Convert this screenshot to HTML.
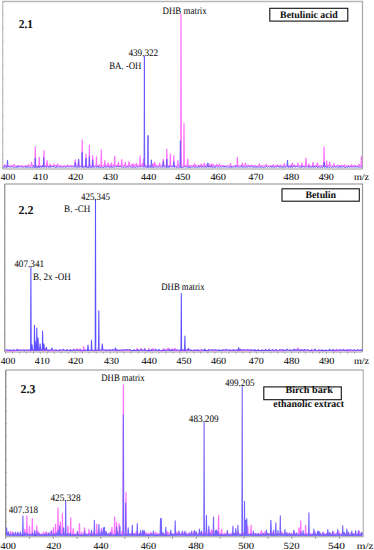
<!DOCTYPE html>
<html><head><meta charset="utf-8"><style>
html,body{margin:0;padding:0;background:#fff;}
svg{display:block;}
</style></head><body>
<svg width="374" height="550" viewBox="0 0 374 550">
<rect width="374" height="550" fill="#fff"/>
<g>
<line x1="2.7" y1="1.5" x2="363.0" y2="1.5" stroke="#b8b8b8" stroke-width="1.6"/>
<line x1="2.7" y1="1.5" x2="2.7" y2="169.0" stroke="#c0c0c0" stroke-width="1.3"/>
<line x1="362.5" y1="1.5" x2="362.5" y2="169.0" stroke="#a8a8a8" stroke-width="1.2"/>
<line x1="2.7" y1="169.0" x2="362.5" y2="169.0" stroke="#9a9a9a" stroke-width="1"/>
<path d="M3.2,166.0 L4.05,165.6 L4.60,164.8 L5.15,165.8 L6.67,165.9 L7.22,165.6 L7.77,166.4 L10.30,166.2 L10.85,165.3 L11.40,165.9 L13.57,165.8 L14.12,164.3 L14.67,166.1 L17.49,166.3 L18.04,165.7 L18.59,166.3 L21.01,165.9 L21.56,165.3 L22.11,166.3 L24.40,166.1 L24.95,165.7 L25.50,166.0 L27.84,166.4 L28.39,164.6 L28.94,165.8 L30.95,166.2 L31.50,162.3 L32.05,165.7 L34.95,165.7 L35.30,146.6 L35.65,166.3 L38.95,165.8 L39.30,157.3 L39.65,166.2 L42.04,166.1 L42.59,165.4 L43.14,166.3 L43.65,165.9 L44.00,150.7 L44.35,165.9 L45.49,165.8 L46.04,165.3 L46.59,166.3 L46.55,166.1 L47.10,160.7 L47.65,166.4 L49.45,166.3 L50.00,164.0 L50.55,165.7 L53.45,166.0 L54.00,164.0 L54.55,165.7 L57.15,165.6 L57.70,164.0 L58.25,165.7 L59.82,166.3 L60.37,165.2 L60.92,166.2 L63.65,166.3 L64.20,165.7 L64.75,165.9 L67.10,166.1 L67.65,165.0 L68.20,166.2 L70.82,165.9 L71.37,165.6 L71.92,166.1 L74.75,165.8 L75.30,159.8 L75.85,165.7 L78.05,165.8 L78.60,159.5 L79.15,166.3 L81.85,166.1 L82.20,139.9 L82.55,166.3 L85.65,166.0 L86.00,154.0 L86.35,165.8 L89.05,166.2 L89.40,145.2 L89.75,166.3 L92.35,165.6 L92.70,155.7 L93.05,166.1 L96.15,165.7 L96.50,156.8 L96.85,165.7 L98.74,166.3 L99.29,164.9 L99.84,165.6 L100.95,165.8 L101.30,149.9 L101.65,166.4 L102.68,165.9 L103.23,165.6 L103.78,165.7 L104.25,165.7 L104.80,160.7 L105.35,165.8 L105.91,166.2 L106.46,165.3 L107.01,165.7 L107.55,166.3 L108.10,162.8 L108.65,165.9 L109.73,166.4 L110.28,165.0 L110.83,166.3 L110.85,165.8 L111.40,162.8 L111.95,165.8 L113.11,166.0 L113.66,164.7 L114.21,165.7 L114.35,166.1 L114.70,156.2 L115.05,165.6 L116.73,165.6 L117.28,165.3 L117.83,166.4 L117.85,165.8 L118.40,162.3 L118.95,166.1 L121.15,166.0 L121.70,159.5 L122.25,165.9 L124.75,165.7 L125.30,162.3 L125.85,166.3 L127.15,166.4 L127.70,165.7 L128.25,166.4 L128.45,165.7 L129.00,161.5 L129.55,165.8 L131.17,166.1 L131.72,164.6 L132.27,166.4 L132.55,166.0 L133.10,163.5 L133.65,166.2 L134.42,166.1 L134.97,164.9 L135.52,165.8 L135.85,166.0 L136.40,163.3 L136.95,165.8 L138.03,165.8 L138.58,165.6 L139.13,165.7 L139.75,165.8 L140.10,156.2 L140.45,166.4 L141.71,166.0 L142.26,163.6 L142.81,166.1 L143.05,166.1 L143.60,159.0 L144.15,166.4 L145.31,165.9 L145.86,165.1 L146.41,165.8 L148.68,165.9 L149.23,165.6 L149.78,165.9 L152.27,166.3 L152.82,163.7 L153.37,166.3 L154.15,165.8 L154.70,162.3 L155.25,165.9 L155.66,166.0 L156.21,165.2 L156.76,166.1 L159.15,166.1 L159.70,163.2 L160.25,165.8 L162.75,165.6 L163.30,159.0 L163.85,165.8 L166.45,165.7 L166.80,149.0 L167.15,166.0 L170.05,165.7 L170.40,154.0 L170.75,165.7 L173.45,166.1 L173.80,155.7 L174.15,165.8 L177.35,166.2 L177.90,160.7 L178.45,166.0 L180.70,166.3 L181.00,14.3 L181.30,165.7 L183.70,166.0 L184.00,123.4 L184.30,166.2 L187.15,165.7 L187.70,159.0 L188.25,166.4 L191.30,165.7 L191.85,165.4 L192.40,166.2 L193.75,166.4 L194.30,163.5 L194.85,166.3 L194.88,165.9 L195.43,164.8 L195.98,165.7 L198.14,166.0 L198.69,165.2 L199.24,166.3 L200.45,165.8 L201.00,164.0 L201.55,166.3 L201.77,165.7 L202.32,165.6 L202.87,166.3 L203.65,165.6 L204.20,163.0 L204.75,165.9 L205.66,166.3 L206.21,164.9 L206.76,166.2 L209.18,166.3 L209.73,164.3 L210.28,166.3 L211.15,166.2 L211.70,164.0 L212.25,166.2 L212.45,165.7 L213.00,164.2 L213.55,165.9 L216.21,165.7 L216.76,164.1 L217.31,166.2 L218.65,166.1 L219.20,164.0 L219.75,165.8 L223.35,165.7 L223.90,165.7 L224.45,166.4 L226.58,166.2 L227.13,165.6 L227.68,166.0 L229.85,166.0 L230.40,163.5 L230.95,166.3 L233.71,166.0 L234.26,165.7 L234.81,165.9 L237.05,165.9 L237.40,157.3 L237.75,165.8 L241.85,165.6 L242.40,163.0 L242.95,166.1 L244.85,165.9 L245.40,163.0 L245.95,166.1 L247.84,165.6 L248.39,165.2 L248.94,165.9 L251.59,165.7 L252.14,165.4 L252.69,165.7 L254.98,165.8 L255.53,165.6 L256.08,166.3 L258.73,165.9 L259.28,163.9 L259.83,165.9 L262.33,166.1 L262.88,165.6 L263.43,165.8 L265.59,165.6 L266.14,164.2 L266.69,166.0 L269.20,166.0 L269.75,165.7 L270.30,166.1 L272.76,166.0 L273.31,164.6 L273.86,166.1 L276.57,166.2 L277.12,164.6 L277.67,165.8 L279.89,166.0 L280.44,165.0 L280.99,166.0 L283.73,165.8 L284.28,163.6 L284.83,165.9 L286.99,166.0 L287.54,165.1 L288.09,166.3 L290.62,166.3 L291.17,164.8 L291.72,165.8 L291.85,166.1 L292.40,163.0 L292.95,165.6 L294.14,165.7 L294.69,165.0 L295.24,166.0 L297.15,166.3 L297.70,163.0 L298.25,165.7 L301.35,166.2 L301.90,163.0 L302.45,166.3 L305.45,165.8 L306.00,158.2 L306.55,166.2 L308.33,166.3 L308.88,164.1 L309.43,165.9 L312.45,166.2 L313.00,162.3 L313.55,166.2 L315.40,166.1 L315.95,165.3 L316.50,166.3 L316.95,166.3 L317.50,162.8 L318.05,166.4 L319.27,166.1 L319.82,165.7 L320.37,165.7 L323.75,165.8 L324.10,146.9 L324.45,165.8 L326.05,166.1 L326.60,161.0 L327.15,166.2 L329.05,165.6 L329.60,162.0 L330.15,166.1 L333.38,166.2 L333.93,163.6 L334.48,165.9 L336.77,166.0 L337.32,165.1 L337.87,165.7 L340.23,166.2 L340.78,165.4 L341.33,165.6 L343.89,166.4 L344.44,164.7 L344.99,166.2 L347.28,166.1 L347.83,165.6 L348.38,165.8 L350.93,166.3 L351.48,164.7 L352.03,166.4 L354.49,165.7 L355.04,165.2 L355.59,166.2 L358.33,166.3 L358.88,164.0 L359.43,166.1 L361.05,166.2 L361.40,156.5 L361.75,166.0 L362.0,166.0" fill="none" stroke="#ff70ff" stroke-width="1.2" stroke-linejoin="round"/>
<path d="M3.2,167.2 L4.13,167.6 L4.68,165.8 L5.23,166.9 L6.95,167.5 L7.50,160.2 L8.05,167.1 L8.00,167.1 L8.55,166.3 L9.10,167.1 L9.74,166.9 L10.29,166.8 L10.84,167.2 L11.51,166.9 L12.06,166.5 L12.61,167.2 L13.22,167.0 L13.77,166.9 L14.32,167.5 L15.14,167.5 L15.69,166.7 L16.24,167.2 L17.04,167.3 L17.59,165.7 L18.14,167.5 L18.56,167.1 L19.11,166.5 L19.66,166.9 L20.14,167.0 L20.69,166.8 L21.24,167.0 L22.13,167.3 L22.68,166.9 L23.23,167.1 L23.87,167.1 L24.42,166.8 L24.97,167.4 L25.72,167.0 L26.27,165.9 L26.82,167.4 L27.36,167.3 L27.91,166.5 L28.46,167.1 L29.18,167.5 L29.73,166.9 L30.28,167.1 L31.06,167.5 L31.61,166.9 L32.16,167.5 L32.92,167.2 L33.47,165.7 L34.02,167.4 L34.95,167.6 L35.30,158.0 L35.65,167.4 L36.51,167.4 L37.06,166.1 L37.61,167.5 L38.30,167.5 L38.85,165.9 L39.40,167.4 L39.88,167.6 L40.43,166.2 L40.98,167.0 L41.96,167.3 L42.51,165.7 L43.06,167.3 L43.25,167.1 L43.60,157.5 L43.95,167.1 L45.27,166.9 L45.82,166.3 L46.37,167.6 L47.07,167.1 L47.62,166.6 L48.17,167.2 L48.85,167.5 L49.40,165.9 L49.95,166.9 L50.56,167.6 L51.11,166.1 L51.66,166.9 L52.61,166.8 L53.16,166.0 L53.71,167.1 L54.23,167.1 L54.78,166.6 L55.33,167.5 L56.08,167.5 L56.63,165.9 L57.18,167.4 L57.61,167.1 L58.16,166.6 L58.71,167.2 L59.63,167.0 L60.18,166.8 L60.73,167.5 L61.52,167.1 L62.07,166.9 L62.62,167.0 L63.30,167.3 L63.85,166.8 L64.40,166.9 L65.10,167.1 L65.65,166.8 L66.20,167.5 L66.65,166.9 L67.20,166.3 L67.75,166.9 L68.51,167.0 L69.06,166.6 L69.61,167.0 L70.12,167.1 L70.67,166.5 L71.22,167.0 L72.00,167.1 L72.55,166.8 L73.10,167.0 L74.75,167.0 L75.30,162.3 L75.85,167.3 L78.25,167.1 L78.60,159.0 L78.95,167.1 L79.23,167.4 L79.78,166.9 L80.33,166.8 L81.85,166.9 L82.20,152.4 L82.55,167.5 L84.25,167.1 L84.80,166.0 L85.35,167.4 L85.65,166.9 L86.00,158.0 L86.35,167.2 L89.05,167.5 L89.40,156.5 L89.75,167.1 L92.15,167.4 L92.70,159.8 L93.25,167.3 L93.19,167.1 L93.74,166.7 L94.29,167.6 L94.92,167.1 L95.47,166.4 L96.02,167.2 L96.67,167.3 L97.22,165.8 L97.77,167.1 L98.45,167.5 L99.00,166.3 L99.55,167.3 L100.63,167.3 L101.18,166.8 L101.73,167.2 L102.09,167.6 L102.64,166.9 L103.19,167.6 L103.97,167.5 L104.52,166.3 L105.07,167.2 L106.06,167.1 L106.61,166.9 L107.16,167.2 L107.36,166.8 L107.91,166.9 L108.46,166.9 L109.43,167.6 L109.98,166.8 L110.53,166.9 L110.96,167.5 L111.51,166.2 L112.06,167.3 L112.70,167.5 L113.25,166.8 L113.80,166.9 L114.84,167.0 L115.39,166.7 L115.94,167.4 L116.69,166.8 L117.24,166.2 L117.79,166.9 L118.45,167.1 L119.00,166.2 L119.55,166.9 L120.04,166.9 L120.59,166.3 L121.14,167.3 L121.91,166.9 L122.46,166.8 L123.01,167.6 L123.41,167.3 L123.96,166.8 L124.51,166.8 L125.58,167.5 L126.13,166.7 L126.68,167.0 L127.21,167.2 L127.76,166.9 L128.31,167.2 L128.96,166.9 L129.51,166.7 L130.06,167.2 L130.96,166.8 L131.51,166.9 L132.06,167.0 L132.56,167.5 L133.11,166.8 L133.66,167.5 L134.05,167.2 L134.60,166.7 L135.15,167.3 L135.89,167.5 L136.44,166.5 L136.99,166.9 L137.62,167.2 L138.17,166.9 L138.72,166.9 L139.43,166.9 L139.98,166.9 L140.53,166.9 L141.42,167.0 L141.97,166.4 L142.52,166.8 L144.10,167.0 L144.40,56.2 L144.70,167.1 L147.70,167.3 L148.00,135.3 L148.30,167.5 L148.59,167.5 L149.14,166.5 L149.69,167.4 L150.85,167.2 L151.40,159.8 L151.95,167.5 L152.05,166.9 L152.60,166.8 L153.15,166.9 L153.62,167.5 L154.17,166.6 L154.72,167.3 L155.61,167.0 L156.16,166.9 L156.71,167.1 L157.54,167.0 L158.09,166.9 L158.64,167.1 L159.01,167.1 L159.56,166.8 L160.11,167.1 L160.86,167.4 L161.41,166.9 L161.96,167.4 L162.75,167.2 L163.30,161.5 L163.85,167.2 L164.46,167.0 L165.01,166.6 L165.56,167.4 L166.45,167.6 L166.80,159.0 L167.15,167.0 L168.34,167.4 L168.89,165.9 L169.44,167.4 L169.86,167.3 L170.41,166.3 L170.96,166.8 L171.71,167.2 L172.26,166.6 L172.81,167.0 L173.25,167.0 L173.80,161.5 L174.35,167.3 L175.07,167.3 L175.62,166.6 L176.17,167.3 L177.16,167.4 L177.71,166.9 L178.26,167.4 L178.80,167.2 L179.35,166.7 L179.90,166.8 L180.05,167.4 L180.40,140.8 L180.75,167.5 L182.59,167.5 L183.14,166.8 L183.69,167.3 L183.89,166.8 L184.44,166.7 L184.99,167.0 L185.71,166.9 L186.26,166.3 L186.81,167.3 L187.86,167.2 L188.41,166.8 L188.96,166.9 L189.23,167.6 L189.78,166.4 L190.33,167.6 L191.21,167.5 L191.76,166.7 L192.31,167.2 L192.89,167.0 L193.44,166.6 L193.99,167.0 L194.60,167.5 L195.15,166.5 L195.70,167.4 L196.53,167.0 L197.08,166.8 L197.63,167.5 L198.16,167.3 L198.71,165.9 L199.26,167.1 L200.00,167.1 L200.55,166.2 L201.10,167.4 L201.88,167.2 L202.43,166.5 L202.98,167.3 L203.84,166.9 L204.39,166.6 L204.94,167.4 L205.30,167.0 L205.85,166.7 L206.40,167.5 L207.35,167.0 L207.90,162.8 L208.45,167.1 L209.12,167.2 L209.67,166.0 L210.22,167.1 L210.93,167.2 L211.48,165.8 L212.03,167.5 L212.69,167.0 L213.24,166.9 L213.79,167.4 L214.50,167.4 L215.05,166.2 L215.60,167.4 L216.10,167.2 L216.65,166.6 L217.20,167.2 L218.10,167.1 L218.65,166.6 L219.20,167.2 L219.74,167.0 L220.29,166.8 L220.84,167.0 L221.74,167.2 L222.29,166.6 L222.84,167.0 L223.51,167.2 L224.06,166.1 L224.61,167.3 L224.97,167.0 L225.52,166.1 L226.07,166.9 L226.85,167.3 L227.40,166.8 L227.95,167.5 L228.60,167.0 L229.15,166.8 L229.70,167.3 L230.62,167.3 L231.17,166.3 L231.72,167.5 L232.35,167.3 L232.90,166.5 L233.45,167.0 L233.90,167.0 L234.45,166.9 L235.00,167.5 L235.57,167.0 L236.12,165.7 L236.67,166.8 L237.32,167.5 L237.87,166.7 L238.42,167.0 L239.51,167.1 L240.06,166.9 L240.61,167.1 L241.17,167.0 L241.72,165.7 L242.27,167.4 L242.77,167.1 L243.32,166.9 L243.87,167.2 L244.74,167.1 L245.29,166.8 L245.84,167.5 L246.40,166.8 L246.95,166.3 L247.50,167.3 L248.02,166.9 L248.57,166.6 L249.12,166.9 L250.22,167.3 L250.77,166.5 L251.32,167.1 L251.57,166.9 L252.12,166.2 L252.67,167.3 L253.66,167.5 L254.21,166.6 L254.76,167.3 L255.53,167.2 L256.08,166.8 L256.63,167.4 L257.21,167.5 L257.76,166.6 L258.31,166.9 L259.14,167.0 L259.69,166.7 L260.24,167.6 L260.71,167.5 L261.26,166.2 L261.81,167.0 L262.42,167.4 L262.97,166.9 L263.52,167.5 L264.28,167.3 L264.83,166.9 L265.38,167.4 L265.85,167.2 L266.40,166.0 L266.95,167.0 L267.78,167.0 L268.33,166.6 L268.88,166.8 L269.68,167.3 L270.23,166.7 L270.78,166.9 L271.45,167.3 L272.00,165.8 L272.55,167.1 L273.36,167.1 L273.91,166.6 L274.46,167.6 L275.03,167.1 L275.58,166.8 L276.13,167.2 L276.82,167.1 L277.37,166.4 L277.92,167.0 L278.33,167.0 L278.88,166.0 L279.43,167.2 L280.20,167.5 L280.75,166.4 L281.30,166.9 L282.27,167.6 L282.82,166.4 L283.37,167.3 L283.57,166.8 L284.12,166.4 L284.67,167.4 L285.70,167.1 L286.25,166.6 L286.80,167.2 L286.95,166.9 L287.50,160.2 L288.05,167.2 L288.91,167.2 L289.46,166.1 L290.01,167.4 L291.05,167.3 L291.60,165.8 L292.15,167.4 L292.91,167.4 L293.46,166.5 L294.01,167.0 L294.29,166.8 L294.84,166.0 L295.39,167.2 L296.41,166.9 L296.96,166.1 L297.51,166.9 L298.17,167.1 L298.72,166.9 L299.27,167.2 L299.68,167.3 L300.23,166.5 L300.78,167.3 L301.43,167.6 L301.98,166.1 L302.53,166.9 L303.36,167.2 L303.91,166.5 L304.46,166.9 L305.20,167.3 L305.75,166.8 L306.30,167.1 L306.80,166.9 L307.35,166.6 L307.90,167.0 L308.52,167.3 L309.07,165.8 L309.62,167.2 L310.50,167.6 L311.05,166.9 L311.60,167.1 L312.37,167.1 L312.92,166.1 L313.47,167.5 L314.06,167.3 L314.61,166.2 L315.16,166.9 L315.77,167.4 L316.32,166.4 L316.87,167.1 L317.63,167.6 L318.18,166.8 L318.73,167.3 L319.20,167.4 L319.75,166.9 L320.30,167.5 L321.03,167.2 L321.58,166.2 L322.13,167.6 L323.55,166.8 L324.10,162.3 L324.65,167.1 L324.84,167.5 L325.39,166.7 L325.94,166.8 L326.71,167.3 L327.26,166.2 L327.81,167.6 L328.14,167.4 L328.69,166.9 L329.24,167.5 L330.07,166.9 L330.62,166.7 L331.17,167.2 L331.63,167.3 L332.18,166.8 L332.73,167.1 L333.89,167.1 L334.44,166.5 L334.99,167.4 L335.45,166.9 L336.00,166.7 L336.55,166.8 L337.18,167.3 L337.73,166.7 L338.28,167.6 L338.90,167.5 L339.45,166.0 L340.00,167.3 L340.76,167.0 L341.31,166.4 L341.86,167.5 L342.76,166.8 L343.31,166.6 L343.86,167.0 L344.49,167.4 L345.04,166.9 L345.59,167.5 L346.18,167.1 L346.73,166.8 L347.28,167.5 L347.97,166.9 L348.52,166.1 L349.07,167.3 L349.84,166.9 L350.39,166.7 L350.94,167.0 L351.52,167.0 L352.07,166.9 L352.62,166.8 L353.25,167.1 L353.80,166.7 L354.35,167.2 L355.16,167.0 L355.71,166.0 L356.26,167.3 L356.70,166.8 L357.25,166.4 L357.80,167.2 L358.55,167.2 L359.10,166.8 L359.65,167.1 L360.24,167.5 L360.79,166.8 L361.34,166.9 L362.0,167.2" fill="none" stroke="#6a5aff" stroke-width="1.0" stroke-linejoin="round"/>
<line x1="4.7" y1="184.0" x2="363.0" y2="184.0" stroke="#b0b0b0" stroke-width="1.6"/>
<line x1="4.7" y1="184.0" x2="4.7" y2="352.0" stroke="#999999" stroke-width="1.3"/>
<line x1="362.5" y1="184.0" x2="362.5" y2="352.0" stroke="#999999" stroke-width="1.2"/>
<line x1="4.7" y1="352.0" x2="362.5" y2="352.0" stroke="#9a9a9a" stroke-width="1"/>
<path d="M5.5,350.5 L5.73,350.1 L6.28,350.0 L6.83,350.8 L9.41,350.7 L9.96,349.9 L10.51,350.8 L12.65,350.8 L13.20,350.2 L13.75,350.8 L16.32,350.6 L16.87,349.6 L17.42,350.1 L20.24,350.7 L20.79,350.2 L21.34,350.2 L23.71,350.3 L24.26,350.0 L24.81,350.6 L27.16,350.5 L27.71,350.0 L28.26,350.4 L30.71,350.9 L31.26,350.2 L31.81,350.6 L35.05,350.4 L35.60,348.0 L36.15,350.3 L37.83,350.8 L38.38,349.8 L38.93,350.5 L39.25,350.7 L39.80,348.0 L40.35,350.4 L41.42,350.3 L41.97,350.2 L42.52,350.5 L44.25,350.8 L44.80,348.0 L45.35,350.2 L48.58,350.7 L49.13,350.2 L49.68,350.8 L52.05,350.7 L52.60,350.0 L53.15,350.8 L55.60,350.1 L56.15,349.6 L56.70,350.6 L58.99,350.8 L59.54,349.5 L60.09,350.1 L62.57,350.3 L63.12,349.7 L63.67,350.3 L66.33,350.5 L66.88,349.5 L67.43,350.4 L69.51,350.5 L70.06,350.2 L70.61,350.7 L73.48,350.1 L74.03,350.2 L74.58,350.1 L76.45,350.2 L77.00,348.8 L77.55,350.2 L79.45,350.2 L80.00,348.8 L80.55,350.9 L83.05,350.8 L83.60,346.7 L84.15,350.2 L87.49,350.5 L88.04,349.9 L88.59,350.4 L91.09,350.4 L91.64,349.5 L92.19,350.4 L94.72,350.6 L95.27,349.5 L95.82,350.6 L97.65,350.4 L98.20,348.5 L98.75,350.3 L101.83,350.4 L102.38,350.2 L102.93,350.2 L105.40,350.5 L105.95,349.5 L106.50,350.7 L108.85,350.4 L109.40,349.9 L109.95,350.2 L112.46,350.2 L113.01,350.2 L113.56,350.4 L115.74,350.6 L116.29,349.9 L116.84,350.7 L119.57,350.4 L120.12,350.2 L120.67,350.7 L122.74,350.6 L123.29,349.4 L123.84,350.4 L126.45,350.4 L127.00,349.7 L127.55,350.5 L129.94,350.7 L130.49,350.2 L131.04,350.4 L133.78,350.7 L134.33,349.7 L134.88,350.5 L136.45,350.3 L137.00,348.5 L137.55,350.5 L140.45,350.7 L141.00,348.5 L141.55,350.2 L144.45,350.4 L145.00,348.5 L145.55,350.4 L148.45,350.8 L149.00,348.5 L149.55,350.8 L151.25,350.4 L151.80,349.4 L152.35,350.8 L152.45,350.7 L153.00,348.5 L153.55,350.3 L154.94,350.5 L155.49,350.2 L156.04,350.2 L158.29,350.8 L158.84,350.2 L159.39,350.6 L162.05,350.8 L162.60,350.1 L163.15,350.7 L163.45,350.6 L164.00,348.5 L164.55,350.7 L165.32,350.6 L165.87,350.2 L166.42,350.2 L167.45,350.6 L168.00,347.8 L168.55,350.1 L169.00,350.2 L169.55,349.6 L170.10,350.7 L171.45,350.1 L172.00,348.5 L172.55,350.2 L172.84,350.2 L173.39,349.5 L173.94,350.8 L174.45,350.2 L175.00,348.3 L175.55,350.1 L176.17,350.8 L176.72,350.1 L177.27,350.2 L179.82,350.8 L180.37,350.0 L180.92,350.6 L183.32,350.8 L183.87,349.9 L184.42,350.9 L187.07,350.6 L187.62,349.9 L188.17,350.7 L190.36,350.1 L190.91,350.0 L191.46,350.7 L193.81,350.5 L194.36,349.8 L194.91,350.7 L197.73,350.2 L198.28,350.1 L198.83,350.7 L201.07,350.8 L201.62,350.0 L202.17,350.1 L204.55,350.4 L205.10,350.2 L205.65,350.6 L207.90,350.8 L208.45,349.9 L209.00,350.3 L211.76,350.2 L212.31,349.9 L212.86,350.3 L215.31,350.6 L215.86,350.2 L216.41,350.7 L218.88,350.4 L219.43,350.0 L219.98,350.4 L222.45,350.4 L223.00,350.1 L223.55,350.4 L225.66,350.4 L226.21,349.8 L226.76,350.2 L229.53,350.5 L230.08,350.2 L230.63,350.9 L232.87,350.4 L233.42,349.5 L233.97,350.7 L236.59,350.2 L237.14,350.0 L237.69,350.7 L240.03,350.7 L240.58,350.1 L241.13,350.6 L243.58,350.5 L244.13,350.1 L244.68,350.5 L247.09,350.6 L247.64,349.9 L248.19,350.8 L250.88,350.2 L251.43,350.1 L251.98,350.2 L254.33,350.7 L254.88,350.2 L255.43,350.8 L257.75,350.5 L258.30,349.8 L258.85,350.5 L261.55,350.7 L262.10,350.2 L262.65,350.2 L264.79,350.3 L265.34,350.2 L265.89,350.3 L268.59,350.6 L269.14,350.0 L269.69,350.4 L271.96,350.3 L272.51,350.2 L273.06,350.7 L275.76,350.9 L276.31,350.1 L276.86,350.3 L279.32,350.7 L279.87,350.0 L280.42,350.4 L282.61,350.8 L283.16,350.2 L283.71,350.6 L286.44,350.3 L286.99,349.9 L287.54,350.3 L289.66,350.1 L290.21,350.0 L290.76,350.5 L293.36,350.4 L293.91,350.2 L294.46,350.2 L297.45,350.4 L298.00,347.8 L298.55,350.4 L300.29,350.7 L300.84,349.6 L301.39,350.2 L304.15,350.9 L304.70,350.1 L305.25,350.5 L307.70,350.6 L308.25,349.9 L308.80,350.5 L310.91,350.8 L311.46,350.1 L312.01,350.8 L314.79,350.5 L315.34,350.1 L315.89,350.5 L318.12,350.7 L318.67,350.1 L319.22,350.8 L321.70,350.4 L322.25,350.1 L322.80,350.7 L325.51,350.9 L326.06,350.1 L326.61,350.5 L328.60,350.3 L329.15,350.2 L329.70,350.3 L332.58,350.7 L333.13,349.5 L333.68,350.6 L335.91,350.9 L336.46,349.4 L337.01,350.8 L339.71,350.3 L340.26,349.5 L340.81,350.3 L343.17,350.3 L343.72,350.2 L344.27,350.2 L346.68,350.7 L347.23,349.6 L347.78,350.8 L350.04,350.8 L350.59,350.0 L351.14,350.3 L353.56,350.8 L354.11,350.1 L354.66,350.4 L357.29,350.4 L357.84,350.2 L358.39,350.7 L360.95,350.2 L361.50,350.1 L362.05,350.2 L362.0,350.5" fill="none" stroke="#ff70ff" stroke-width="1.2" stroke-linejoin="round"/>
<path d="M5.5,350.2 L5.74,350.2 L6.29,349.9 L6.84,349.8 L9.12,350.5 L9.67,349.9 L10.22,350.5 L13.10,349.9 L13.65,349.8 L14.20,350.2 L16.57,350.1 L17.12,349.3 L17.67,350.4 L20.01,350.0 L20.56,349.9 L21.11,350.0 L23.37,350.2 L23.92,349.8 L24.47,350.6 L26.95,349.9 L27.50,349.9 L28.05,349.9 L30.60,350.3 L30.90,267.2 L31.20,350.5 L31.45,350.2 L32.00,344.7 L32.55,350.1 L34.15,350.5 L34.50,325.2 L34.85,350.4 L34.95,349.9 L35.30,341.4 L35.65,350.5 L36.45,350.0 L36.80,328.1 L37.15,350.0 L37.75,350.5 L38.10,338.0 L38.45,350.1 L39.55,350.4 L40.10,343.9 L40.65,349.9 L42.25,350.5 L42.60,331.1 L42.95,349.9 L43.35,349.9 L43.90,343.9 L44.45,350.2 L45.85,350.1 L46.40,347.2 L46.95,350.2 L48.44,350.5 L48.99,349.9 L49.54,350.4 L51.35,349.8 L51.90,348.0 L52.45,350.0 L55.47,350.2 L56.02,349.9 L56.57,350.2 L59.26,350.4 L59.81,349.9 L60.36,350.2 L62.61,349.9 L63.16,349.2 L63.71,350.0 L66.34,350.5 L66.89,349.8 L67.44,350.1 L69.88,350.4 L70.43,349.6 L70.98,350.6 L73.24,350.3 L73.79,349.3 L74.34,350.3 L76.84,350.3 L77.39,349.7 L77.94,350.1 L80.17,350.5 L80.72,349.7 L81.27,350.2 L84.04,350.5 L84.59,349.8 L85.14,350.0 L87.45,350.5 L88.00,345.0 L88.55,350.4 L91.15,350.3 L91.50,340.1 L91.85,350.2 L95.20,349.9 L95.50,199.2 L95.80,350.4 L98.50,350.1 L98.80,310.7 L99.10,350.3 L101.75,349.9 L102.30,343.9 L102.85,349.9 L105.25,349.9 L105.80,349.9 L106.35,350.4 L108.67,349.9 L109.22,349.8 L109.77,350.5 L112.20,350.1 L112.75,349.4 L113.30,350.3 L114.85,350.1 L115.40,348.0 L115.95,350.3 L116.04,349.9 L116.59,349.6 L117.14,350.1 L119.17,350.5 L119.72,349.9 L120.27,349.9 L123.07,350.3 L123.62,349.9 L124.17,350.1 L126.36,350.0 L126.91,349.6 L127.46,349.8 L129.88,349.8 L130.43,349.8 L130.98,350.6 L133.36,350.5 L133.91,349.7 L134.46,350.4 L137.34,350.4 L137.89,349.5 L138.44,350.6 L140.81,349.9 L141.36,349.1 L141.91,350.3 L144.00,350.2 L144.55,349.1 L145.10,350.3 L148.02,350.6 L148.57,349.8 L149.12,350.4 L151.29,350.6 L151.84,349.4 L152.39,349.9 L154.95,350.3 L155.50,349.1 L156.05,350.3 L158.33,350.4 L158.88,349.3 L159.43,350.3 L161.96,350.5 L162.51,349.9 L163.06,350.0 L165.48,350.5 L166.03,349.9 L166.58,350.1 L169.00,350.3 L169.55,349.1 L170.10,350.5 L172.41,350.4 L172.96,349.9 L173.51,350.0 L176.33,350.0 L176.88,349.9 L177.43,350.1 L179.63,350.3 L180.18,349.8 L180.73,350.6 L181.00,350.5 L181.30,293.4 L181.60,350.1 L184.55,350.1 L184.90,336.1 L185.25,350.5 L186.69,350.0 L187.24,349.7 L187.79,350.1 L187.95,349.8 L188.50,348.4 L189.05,349.9 L190.17,350.2 L190.72,349.9 L191.27,350.4 L194.03,350.3 L194.58,349.9 L195.13,350.1 L197.26,350.6 L197.81,349.9 L198.36,350.3 L200.91,349.9 L201.46,349.7 L202.01,349.9 L204.40,350.6 L204.95,349.0 L205.50,350.6 L208.27,350.5 L208.82,349.6 L209.37,350.3 L211.93,350.0 L212.48,349.7 L213.03,349.9 L215.11,350.0 L215.66,349.7 L216.21,350.0 L218.56,350.5 L219.11,349.7 L219.66,350.5 L222.21,350.4 L222.76,349.7 L223.31,349.9 L226.05,350.0 L226.60,349.2 L227.15,350.0 L229.20,350.6 L229.75,349.7 L230.30,349.9 L232.86,350.4 L233.41,349.8 L233.96,350.3 L236.40,350.2 L236.95,349.9 L237.50,350.6 L238.15,350.0 L238.70,347.7 L239.25,350.2 L239.91,349.9 L240.46,349.2 L241.01,349.9 L243.85,349.8 L244.40,349.9 L244.95,350.1 L247.43,349.9 L247.98,349.6 L248.53,349.8 L250.94,350.6 L251.49,349.8 L252.04,350.0 L254.43,350.5 L254.98,349.5 L255.53,350.4 L257.84,350.4 L258.39,349.4 L258.94,350.3 L261.24,350.6 L261.79,349.9 L262.34,350.5 L265.14,350.4 L265.69,349.2 L266.24,350.2 L268.41,350.4 L268.96,349.1 L269.51,350.4 L272.19,350.2 L272.74,349.5 L273.29,350.2 L275.75,349.9 L276.30,349.5 L276.85,350.5 L279.22,350.2 L279.77,349.6 L280.32,349.9 L282.57,349.9 L283.12,349.5 L283.67,350.5 L286.47,350.0 L287.02,349.1 L287.57,350.1 L290.02,350.3 L290.57,349.9 L291.12,350.5 L293.42,350.1 L293.97,349.1 L294.52,350.1 L297.09,350.1 L297.64,349.9 L298.19,349.8 L300.67,350.5 L301.22,349.9 L301.77,349.8 L303.77,350.6 L304.32,349.5 L304.87,349.9 L307.61,349.9 L308.16,349.9 L308.71,350.5 L311.21,350.5 L311.76,349.6 L312.31,350.0 L314.50,350.2 L315.05,349.1 L315.60,350.2 L318.40,350.4 L318.95,349.9 L319.50,349.9 L321.93,350.5 L322.48,349.9 L323.03,350.6 L325.44,350.4 L325.99,349.9 L326.54,350.5 L329.03,350.5 L329.58,349.3 L330.13,350.1 L332.58,350.5 L333.13,349.6 L333.68,350.5 L336.02,350.3 L336.57,349.9 L337.12,349.9 L339.68,350.3 L340.23,349.8 L340.78,350.5 L343.02,350.0 L343.57,349.4 L344.12,350.3 L346.35,350.5 L346.90,349.7 L347.45,350.3 L350.19,349.8 L350.74,349.9 L351.29,350.3 L353.87,350.0 L354.42,349.7 L354.97,350.5 L357.06,350.3 L357.61,349.6 L358.16,350.0 L360.92,350.5 L361.47,349.8 L362.02,350.3 L362.0,350.2" fill="none" stroke="#5e4fff" stroke-width="1.05" stroke-linejoin="round"/>
<line x1="5.7" y1="370.0" x2="363.8" y2="370.0" stroke="#b4b4b4" stroke-width="1.6"/>
<line x1="5.7" y1="370.0" x2="5.7" y2="536.8" stroke="#8c8c8c" stroke-width="1.3"/>
<line x1="363.3" y1="370.0" x2="363.3" y2="536.8" stroke="#b4b4b4" stroke-width="1.2"/>
<line x1="5.7" y1="536.8" x2="363.3" y2="536.8" stroke="#9a9a9a" stroke-width="1"/>
<path d="M6.5,534.2 L7.68,534.1 L8.13,532.5 L8.58,534.4 L10.03,534.3 L10.48,531.7 L10.93,533.8 L12.06,534.0 L12.51,531.8 L12.96,534.2 L14.89,534.5 L15.34,533.4 L15.79,534.5 L17.25,534.2 L17.70,532.8 L18.15,533.8 L19.42,534.4 L19.87,533.9 L20.32,534.1 L21.83,534.3 L22.28,533.7 L22.73,534.4 L24.45,534.3 L24.90,529.4 L25.35,534.2 L26.55,534.5 L26.90,515.8 L27.25,534.1 L29.15,534.1 L29.50,526.1 L29.85,534.5 L31.95,534.0 L32.30,518.6 L32.65,534.0 L33.77,534.5 L34.22,533.9 L34.67,533.9 L36.45,534.5 L36.80,525.8 L37.15,534.4 L38.33,534.1 L38.78,532.0 L39.23,534.0 L41.09,534.4 L41.54,533.8 L41.99,534.5 L43.13,533.9 L43.58,532.0 L44.03,534.2 L45.63,534.2 L46.08,531.6 L46.53,534.2 L47.84,534.1 L48.29,532.8 L48.74,533.9 L50.47,534.3 L50.92,531.7 L51.37,534.4 L52.95,533.9 L53.40,527.8 L53.85,534.0 L55.25,534.5 L55.60,524.4 L55.95,534.4 L57.65,534.3 L58.00,507.9 L58.35,533.8 L59.95,534.4 L60.30,522.0 L60.65,534.6 L62.05,534.6 L62.40,513.7 L62.75,534.4 L64.57,533.8 L65.02,532.8 L65.47,534.5 L67.55,534.0 L67.90,526.1 L68.25,534.3 L70.35,534.6 L70.70,517.8 L71.05,534.4 L72.75,533.9 L73.20,528.6 L73.65,534.0 L74.41,534.5 L74.86,533.9 L75.31,533.9 L76.68,534.3 L77.13,533.9 L77.58,534.1 L79.15,533.9 L79.50,523.6 L79.85,534.3 L81.25,533.8 L81.70,532.3 L82.15,533.9 L84.05,534.1 L84.50,527.8 L84.95,533.9 L85.91,533.8 L86.36,533.9 L86.81,534.3 L88.55,534.4 L89.00,529.4 L89.45,534.5 L91.05,533.9 L91.50,532.5 L91.95,534.1 L93.13,534.1 L93.58,531.7 L94.03,534.3 L96.35,534.2 L96.70,524.4 L97.05,534.6 L97.78,534.1 L98.23,532.4 L98.68,533.8 L100.95,534.4 L101.40,528.6 L101.85,533.9 L102.50,534.3 L102.95,532.1 L103.40,534.2 L104.91,534.5 L105.36,531.7 L105.81,534.2 L107.55,534.3 L108.00,533.6 L108.45,534.0 L109.79,534.2 L110.24,531.8 L110.69,534.0 L111.45,534.4 L111.90,527.4 L112.35,534.2 L114.25,533.9 L114.60,517.0 L114.95,534.0 L116.25,534.1 L116.60,522.0 L116.95,534.4 L118.75,533.9 L119.10,523.6 L119.45,534.4 L121.60,534.3 L122.05,531.4 L122.50,533.9 L123.00,534.3 L123.30,384.8 L123.60,533.9 L124.40,533.9 L124.85,533.9 L125.30,534.3 L125.70,534.0 L126.00,492.5 L126.30,534.5 L128.96,534.2 L129.41,533.8 L129.86,534.1 L131.27,534.4 L131.72,532.2 L132.17,533.8 L133.45,534.4 L133.90,533.5 L134.35,533.8 L135.82,533.9 L136.27,531.8 L136.72,534.6 L138.60,534.3 L139.05,533.3 L139.50,534.0 L140.93,533.9 L141.38,533.9 L141.83,534.6 L143.26,534.3 L143.71,531.6 L144.16,534.5 L145.38,533.9 L145.83,532.3 L146.28,534.3 L147.78,534.1 L148.23,533.4 L148.68,534.0 L150.23,534.1 L150.68,532.1 L151.13,534.3 L152.96,534.1 L153.41,533.4 L153.86,534.1 L155.33,533.9 L155.78,532.1 L156.23,534.5 L157.47,534.3 L157.92,533.4 L158.37,534.4 L159.84,534.1 L160.29,532.6 L160.74,534.5 L162.18,534.2 L162.63,533.7 L163.08,534.3 L164.55,534.3 L165.00,533.8 L165.45,534.4 L167.22,534.1 L167.67,531.5 L168.12,533.9 L169.37,533.8 L169.82,532.9 L170.27,534.0 L171.55,533.8 L172.00,533.6 L172.45,534.5 L174.27,534.2 L174.72,533.7 L175.17,534.4 L176.44,533.8 L176.89,532.0 L177.34,534.2 L179.03,534.5 L179.48,532.4 L179.93,534.3 L181.35,534.1 L181.80,532.7 L182.25,534.2 L183.58,533.9 L184.03,532.5 L184.48,533.9 L185.92,533.9 L186.37,532.7 L186.82,534.1 L188.55,534.1 L189.00,533.3 L189.45,534.5 L190.69,533.9 L191.14,532.7 L191.59,534.0 L193.25,534.0 L193.70,531.7 L194.15,533.9 L195.31,534.0 L195.76,533.1 L196.21,534.0 L197.81,534.2 L198.26,533.2 L198.71,533.8 L200.29,534.5 L200.74,532.8 L201.19,534.1 L202.77,534.6 L203.22,532.2 L203.67,534.4 L205.00,534.3 L205.45,532.3 L205.90,534.2 L207.95,534.6 L208.40,529.4 L208.85,533.9 L209.76,534.3 L210.21,532.2 L210.66,534.0 L210.95,534.3 L211.40,530.5 L211.85,534.4 L211.25,533.9 L211.70,529.5 L212.15,534.0 L212.40,533.8 L212.85,532.1 L213.30,534.0 L214.83,533.9 L215.28,532.7 L215.73,534.1 L216.98,534.6 L217.43,531.6 L217.88,534.1 L218.25,534.0 L218.60,515.3 L218.95,534.2 L219.19,534.0 L219.64,533.2 L220.09,534.4 L221.15,534.4 L221.60,529.4 L222.05,533.9 L224.21,534.0 L224.66,533.3 L225.11,534.3 L226.61,534.6 L227.06,532.6 L227.51,534.3 L229.01,534.1 L229.46,533.8 L229.91,534.6 L231.34,533.8 L231.79,533.1 L232.24,533.8 L233.69,534.4 L234.14,533.5 L234.59,534.1 L236.08,533.8 L236.53,532.4 L236.98,534.2 L238.16,534.6 L238.61,532.6 L239.06,534.2 L240.74,534.1 L241.19,533.8 L241.64,533.9 L243.01,533.9 L243.46,532.8 L243.91,534.5 L245.60,534.2 L246.05,532.7 L246.50,534.5 L247.45,533.8 L247.80,526.1 L248.15,534.0 L250.75,533.8 L251.10,525.3 L251.45,534.1 L252.58,533.8 L253.03,533.9 L253.48,534.0 L254.90,534.1 L255.35,533.8 L255.80,534.0 L257.42,533.8 L257.87,533.9 L258.32,533.8 L259.87,534.6 L260.32,533.5 L260.77,533.9 L260.95,534.2 L261.40,530.5 L261.85,534.1 L262.06,534.2 L262.51,533.0 L262.96,533.9 L264.32,534.1 L264.77,531.9 L265.22,533.9 L266.84,534.2 L267.29,533.5 L267.74,534.5 L269.14,534.3 L269.59,533.5 L270.04,534.5 L271.65,534.0 L272.10,532.2 L272.55,533.8 L274.15,534.2 L274.60,533.9 L275.05,534.2 L276.50,534.3 L276.95,533.9 L277.40,534.1 L278.89,534.3 L279.34,533.6 L279.79,534.4 L281.39,534.5 L281.84,531.6 L282.29,534.0 L283.77,534.2 L284.22,533.5 L284.67,534.5 L285.93,534.0 L286.38,532.9 L286.83,533.9 L288.42,534.0 L288.87,533.8 L289.32,533.9 L290.98,534.4 L291.43,533.1 L291.88,534.5 L293.55,534.1 L294.00,531.0 L294.45,533.9 L295.71,533.9 L296.16,533.6 L296.61,534.0 L298.55,533.9 L299.00,527.8 L299.45,534.1 L300.35,534.3 L300.70,521.1 L301.05,534.0 L302.72,533.8 L303.17,533.9 L303.62,534.4 L305.25,533.8 L305.60,525.3 L305.95,534.0 L307.28,534.0 L307.73,533.4 L308.18,534.1 L310.03,533.9 L310.48,533.7 L310.93,534.1 L312.40,534.1 L312.85,533.5 L313.30,534.4 L314.60,534.2 L315.05,531.8 L315.50,534.5 L317.17,534.3 L317.62,533.7 L318.07,534.4 L319.27,534.3 L319.72,533.3 L320.17,534.2 L321.93,534.5 L322.38,533.6 L322.83,534.3 L323.97,534.6 L324.42,533.3 L324.87,534.4 L326.26,534.4 L326.71,533.3 L327.16,534.0 L328.80,534.4 L329.25,532.9 L329.70,534.1 L331.35,533.9 L331.80,533.7 L332.25,533.9 L333.35,533.9 L333.80,532.2 L334.25,534.0 L335.86,534.3 L336.31,533.2 L336.76,534.0 L338.49,533.9 L338.94,531.7 L339.39,534.4 L340.62,534.2 L341.07,533.7 L341.52,533.8 L343.36,533.8 L343.81,533.8 L344.26,533.9 L345.55,534.1 L346.00,533.7 L346.45,534.5 L347.94,534.6 L348.39,533.3 L348.84,534.3 L350.37,534.0 L350.82,533.0 L351.27,534.1 L352.76,534.1 L353.21,533.9 L353.66,534.1 L355.03,533.8 L355.48,533.7 L355.93,534.3 L357.29,534.5 L357.74,533.6 L358.19,534.4 L358.85,533.9 L359.30,531.0 L359.75,534.2 L362.5,534.2" fill="none" stroke="#ff70ff" stroke-width="1.2" stroke-linejoin="round"/>
<path d="M6.5,535.0 L6.15,534.6 L6.60,527.8 L7.05,534.7 L7.93,534.6 L8.38,531.7 L8.83,534.7 L10.07,534.6 L10.52,534.4 L10.97,535.3 L12.68,534.7 L13.13,532.7 L13.58,535.1 L15.01,534.8 L15.46,532.1 L15.91,534.7 L17.34,534.9 L17.79,532.0 L18.24,534.7 L19.95,535.4 L20.40,531.8 L20.85,534.9 L22.55,535.1 L22.90,515.8 L23.25,535.1 L24.44,535.1 L24.89,532.6 L25.34,535.0 L27.13,534.8 L27.58,533.3 L28.03,534.7 L29.51,535.3 L29.96,534.4 L30.41,534.8 L31.91,535.0 L32.36,532.6 L32.81,535.2 L34.35,535.1 L34.80,530.2 L35.25,535.4 L36.65,535.2 L37.10,531.8 L37.55,535.0 L38.68,534.7 L39.13,533.8 L39.58,535.1 L41.33,535.0 L41.78,534.5 L42.23,535.3 L43.86,535.0 L44.31,534.3 L44.76,535.2 L45.87,535.2 L46.32,533.1 L46.77,535.0 L48.33,535.3 L48.78,532.8 L49.23,535.3 L50.98,534.7 L51.43,530.8 L51.88,535.3 L53.23,535.3 L53.68,533.5 L54.13,535.3 L55.69,534.9 L56.14,532.5 L56.59,534.8 L57.68,534.7 L58.13,530.4 L58.58,534.9 L59.35,535.3 L59.70,526.1 L60.05,534.9 L60.35,534.6 L60.80,534.1 L61.25,534.8 L63.15,534.7 L63.60,527.8 L64.05,535.1 L65.40,535.2 L65.70,500.6 L66.00,535.3 L67.25,534.7 L67.70,533.5 L68.15,534.9 L69.72,534.7 L70.17,532.7 L70.62,535.3 L72.19,535.3 L72.64,534.5 L73.09,535.0 L74.43,535.4 L74.88,534.6 L75.33,535.0 L77.06,535.2 L77.51,531.3 L77.96,535.0 L79.48,534.9 L79.93,534.7 L80.38,535.4 L81.63,535.3 L82.08,534.7 L82.53,535.1 L84.16,535.3 L84.61,531.0 L85.06,535.1 L86.42,535.2 L86.87,534.3 L87.32,534.7 L88.67,534.7 L89.12,534.0 L89.57,534.7 L91.02,535.1 L91.47,530.2 L91.92,535.2 L94.05,534.7 L94.40,520.3 L94.75,535.0 L96.24,534.7 L96.69,534.0 L97.14,535.2 L98.55,535.2 L98.90,524.4 L99.25,534.7 L100.84,535.4 L101.29,531.1 L101.74,535.1 L102.85,534.7 L103.30,527.8 L103.75,534.9 L103.95,534.7 L104.40,527.4 L104.85,535.2 L105.67,535.3 L106.12,531.6 L106.57,534.7 L107.88,534.7 L108.33,533.5 L108.78,535.1 L110.23,535.3 L110.68,532.5 L111.13,535.2 L112.78,535.0 L113.23,534.7 L113.68,534.7 L115.03,535.1 L115.48,534.4 L115.93,535.0 L116.25,535.2 L116.60,527.0 L116.95,535.1 L117.25,535.2 L117.70,531.9 L118.15,535.4 L119.55,535.1 L119.90,526.0 L120.25,535.3 L123.10,534.8 L123.40,415.0 L123.70,534.6 L125.40,535.3 L125.70,503.0 L126.00,534.6 L127.75,535.4 L128.20,527.8 L128.65,535.0 L129.51,534.6 L129.96,533.9 L130.41,534.8 L131.95,535.2 L132.30,525.3 L132.65,534.9 L134.07,535.1 L134.52,533.7 L134.97,534.7 L136.95,535.3 L137.30,523.6 L137.65,534.9 L138.99,535.3 L139.44,534.3 L139.89,534.7 L140.15,535.1 L140.60,530.5 L141.05,535.0 L141.30,534.9 L141.75,534.2 L142.20,534.6 L142.35,535.0 L142.80,530.0 L143.25,535.3 L143.81,534.7 L144.26,530.5 L144.71,535.0 L146.03,534.6 L146.48,534.1 L146.93,535.4 L148.31,535.4 L148.76,534.2 L149.21,535.1 L150.88,535.0 L151.33,533.6 L151.78,534.7 L153.01,534.7 L153.46,530.8 L153.91,535.2 L155.47,535.2 L155.92,534.7 L156.37,535.4 L157.64,535.3 L158.09,534.7 L158.54,535.0 L160.15,534.8 L160.50,518.6 L160.85,535.0 L160.95,534.9 L161.30,518.6 L161.65,535.0 L162.57,535.3 L163.02,532.4 L163.47,535.0 L165.35,535.4 L165.80,527.4 L166.25,535.2 L167.24,534.6 L167.69,534.7 L168.14,535.2 L170.35,535.1 L170.80,530.0 L171.25,535.1 L172.30,534.6 L172.75,533.9 L173.20,535.3 L174.85,535.0 L175.20,520.8 L175.55,535.0 L176.72,534.7 L177.17,533.7 L177.62,534.6 L178.55,534.6 L179.00,531.0 L179.45,534.8 L181.95,534.8 L182.40,531.0 L182.85,534.7 L184.45,534.6 L184.90,531.0 L185.35,535.2 L186.24,535.2 L186.69,534.7 L187.14,535.3 L188.80,534.8 L189.25,532.8 L189.70,535.2 L191.26,535.1 L191.71,531.1 L192.16,534.7 L194.05,535.3 L194.50,530.5 L194.95,534.9 L195.75,534.7 L196.20,531.6 L196.65,534.7 L198.95,535.3 L199.40,529.0 L199.85,534.8 L200.91,534.9 L201.36,531.0 L201.81,535.0 L203.80,534.9 L204.10,422.8 L204.40,535.1 L206.05,534.7 L206.40,515.3 L206.75,534.9 L208.55,535.1 L208.90,526.1 L209.25,535.1 L210.38,535.1 L210.83,533.8 L211.28,534.8 L213.15,535.1 L213.50,517.0 L213.85,535.4 L215.05,535.0 L215.50,530.5 L215.95,535.1 L216.15,535.3 L216.60,530.0 L217.05,534.8 L217.62,534.8 L218.07,531.8 L218.52,535.4 L219.98,534.8 L220.43,534.3 L220.88,534.9 L222.32,534.9 L222.77,534.7 L223.22,535.4 L224.75,535.0 L225.20,534.3 L225.65,535.3 L226.95,534.7 L227.40,530.5 L227.85,534.8 L229.07,535.1 L229.52,534.7 L229.97,534.9 L232.55,535.1 L232.90,526.1 L233.25,535.0 L233.80,534.7 L234.25,533.4 L234.70,534.7 L235.25,535.0 L235.70,528.5 L236.15,535.0 L236.35,534.7 L236.80,534.6 L237.25,534.8 L237.55,534.6 L237.90,525.3 L238.25,534.8 L239.04,534.8 L239.49,534.7 L239.94,534.9 L241.90,535.1 L242.20,386.6 L242.50,535.3 L244.20,535.2 L244.50,501.2 L244.80,535.2 L245.35,534.8 L245.70,520.3 L246.05,535.0 L246.45,535.2 L246.80,518.6 L247.15,535.3 L248.34,534.8 L248.79,534.6 L249.24,534.6 L250.70,534.6 L251.15,533.7 L251.60,535.0 L252.95,535.3 L253.40,531.0 L253.85,534.7 L255.22,535.2 L255.67,533.5 L256.12,535.1 L257.66,535.3 L258.11,533.5 L258.56,535.3 L260.04,534.7 L260.49,534.3 L260.94,535.2 L262.54,534.7 L262.99,533.2 L263.44,534.7 L264.84,534.9 L265.29,534.5 L265.74,535.0 L265.95,534.7 L266.40,530.0 L266.85,534.8 L267.56,534.7 L268.01,533.3 L268.46,534.7 L270.45,534.7 L270.80,520.3 L271.15,534.6 L270.65,534.8 L271.00,520.8 L271.35,534.9 L271.99,534.9 L272.44,534.2 L272.89,535.2 L273.15,535.1 L273.60,530.0 L274.05,535.0 L275.45,534.9 L275.80,522.8 L276.15,535.1 L277.45,534.8 L277.90,530.5 L278.35,534.7 L279.95,534.7 L280.30,515.8 L280.65,535.1 L281.59,534.7 L282.04,533.8 L282.49,534.8 L284.45,534.9 L284.90,529.5 L285.35,535.1 L286.51,535.1 L286.96,532.7 L287.41,535.1 L288.93,535.1 L289.38,532.8 L289.83,534.8 L291.24,535.3 L291.69,534.1 L292.14,535.2 L293.37,534.9 L293.82,530.4 L294.27,534.9 L295.86,535.1 L296.31,532.9 L296.76,534.7 L298.07,535.1 L298.52,534.7 L298.97,535.3 L300.49,534.9 L300.94,532.1 L301.39,535.0 L302.65,534.8 L303.10,530.5 L303.55,535.3 L305.20,534.9 L305.65,534.1 L306.10,534.9 L308.55,535.2 L308.90,512.8 L309.25,534.9 L310.23,535.3 L310.68,534.5 L311.13,534.9 L313.45,535.1 L313.90,529.0 L314.35,534.8 L315.07,535.1 L315.52,533.7 L315.97,535.0 L317.17,534.7 L317.62,531.3 L318.07,535.3 L318.45,534.7 L318.90,531.0 L319.35,535.1 L319.53,535.1 L319.98,532.7 L320.43,535.0 L322.55,534.9 L323.00,532.0 L323.45,535.0 L324.69,535.4 L325.14,534.7 L325.59,534.6 L327.35,535.3 L327.80,529.5 L328.25,535.1 L329.31,535.0 L329.76,532.3 L330.21,535.1 L332.25,535.1 L332.70,531.0 L333.15,535.3 L334.18,535.4 L334.63,534.5 L335.08,535.0 L337.25,534.9 L337.70,529.5 L338.15,534.9 L338.80,535.3 L339.25,534.5 L339.70,535.0 L342.35,534.7 L342.70,525.8 L343.05,535.1 L343.77,534.7 L344.22,532.2 L344.67,534.9 L346.35,535.1 L346.80,529.0 L347.25,535.1 L348.07,535.0 L348.52,532.0 L348.97,535.3 L351.35,535.1 L351.80,531.0 L352.25,535.4 L352.85,535.2 L353.30,534.1 L353.75,534.8 L355.18,535.2 L355.63,530.7 L356.08,534.9 L358.02,535.4 L358.47,530.9 L358.92,535.1 L360.34,534.9 L360.79,533.8 L361.24,534.7 L361.35,535.3 L361.80,532.0 L362.25,534.9 L362.5,535.0" fill="none" stroke="#7464ff" stroke-width="1.1" stroke-linejoin="round"/>
<line x1="6.5" y1="535.3" x2="362.5" y2="535.3" stroke="#6a5aff" stroke-width="1.1"/>
<path d="M5.5,352.3v1.2M12.4,352.3v1.2M19.4,352.3v1.2M26.4,352.3v1.2M33.4,352.3v1.2M40.4,352.3v1.2M47.3,352.3v1.2M54.3,352.3v1.2M61.3,352.3v1.2M68.3,352.3v1.2M75.3,352.3v1.2M82.2,352.3v1.2M89.2,352.3v1.2M96.2,352.3v1.2M103.2,352.3v1.2M110.2,352.3v1.2M117.1,352.3v1.2M124.1,352.3v1.2M131.1,352.3v1.2M138.1,352.3v1.2M145.1,352.3v1.2M152.0,352.3v1.2M159.0,352.3v1.2M166.0,352.3v1.2M173.0,352.3v1.2M180.0,352.3v1.2M186.9,352.3v1.2M193.9,352.3v1.2M200.9,352.3v1.2M207.9,352.3v1.2M214.9,352.3v1.2M221.8,352.3v1.2M228.8,352.3v1.2M235.8,352.3v1.2M242.8,352.3v1.2M249.8,352.3v1.2M256.7,352.3v1.2M263.7,352.3v1.2M270.7,352.3v1.2M277.7,352.3v1.2M284.7,352.3v1.2M291.6,352.3v1.2M298.6,352.3v1.2M305.6,352.3v1.2M312.6,352.3v1.2M319.6,352.3v1.2M326.5,352.3v1.2M333.5,352.3v1.2M340.5,352.3v1.2M347.5,352.3v1.2M354.5,352.3v1.2" stroke="#888" stroke-width="0.9" fill="none"/>
<path d="M5.5,537.2v1.2M29.4,537.2v1.2M53.2,537.2v1.2M77.1,537.2v1.2M100.9,537.2v1.2M124.8,537.2v1.2M148.6,537.2v1.2M172.5,537.2v1.2M196.3,537.2v1.2M220.2,537.2v1.2M244.0,537.2v1.2M267.9,537.2v1.2M291.8,537.2v1.2M315.6,537.2v1.2M339.5,537.2v1.2" stroke="#555" stroke-width="0.9" fill="none"/>
<path d="M2.4,154.6h1.2M2.4,141.9h1.2M2.4,129.2h1.2M2.4,116.5h1.2M2.4,103.8h1.2M2.4,91.1h1.2M2.4,78.4h1.2M2.4,65.7h1.2M2.4,53.0h1.2M2.4,40.3h1.2M2.4,27.6h1.2M2.4,14.9h1.2M2.4,2.2h1.2" stroke="#b4b4b4" stroke-width="0.9" fill="none"/>
<path d="M4.4,334.4h1.2M4.4,318.0h1.2M4.4,301.6h1.2M4.4,285.2h1.2M4.4,268.8h1.2M4.4,252.4h1.2M4.4,236.0h1.2M4.4,219.6h1.2M4.4,203.2h1.2M4.4,186.8h1.2" stroke="#a0a0a0" stroke-width="0.9" fill="none"/>
<path d="M5.4,534.1h1.2M5.4,521.8h1.2M5.4,509.5h1.2M5.4,497.2h1.2M5.4,484.9h1.2M5.4,472.6h1.2M5.4,460.3h1.2M5.4,448.0h1.2M5.4,435.7h1.2M5.4,423.4h1.2M5.4,411.1h1.2M5.4,398.8h1.2M5.4,386.5h1.2M5.4,374.2h1.2" stroke="#8a8a8a" stroke-width="0.9" fill="none"/>
<g font-family="'Liberation Serif', serif" fill="#111" stroke="#111" stroke-width="0.06" text-rendering="geometricPrecision">
<text x="18.8" y="27.7" font-size="12" font-weight="bold" textLength="14.2" lengthAdjust="spacingAndGlyphs">2.1</text>
<text x="162.5" y="14.1" font-size="10" textLength="44.3" lengthAdjust="spacingAndGlyphs">DHB matrix</text>
<text x="128.4" y="56.1" font-size="10" textLength="29.8" lengthAdjust="spacingAndGlyphs">439.322</text>
<text x="109.2" y="68.7" font-size="10" textLength="32.2" lengthAdjust="spacingAndGlyphs">BA. -OH</text>
<text x="280.1" y="17.7" font-size="10" font-weight="bold" textLength="57.6" lengthAdjust="spacingAndGlyphs">Betulinic acid</text>
<text x="0.7" y="179.5" font-size="9.5" textLength="14.6" lengthAdjust="spacingAndGlyphs">400</text>
<text x="33.1" y="179.5" font-size="9.5" textLength="15.0" lengthAdjust="spacingAndGlyphs">410</text>
<text x="68.2" y="179.5" font-size="9.5" textLength="15.0" lengthAdjust="spacingAndGlyphs">420</text>
<text x="103.0" y="179.5" font-size="9.5" textLength="15.1" lengthAdjust="spacingAndGlyphs">430</text>
<text x="141.0" y="179.5" font-size="9.5" textLength="15.2" lengthAdjust="spacingAndGlyphs">440</text>
<text x="175.2" y="179.5" font-size="9.5" textLength="15.1" lengthAdjust="spacingAndGlyphs">450</text>
<text x="210.4" y="179.5" font-size="9.5" textLength="15.6" lengthAdjust="spacingAndGlyphs">460</text>
<text x="248.5" y="179.5" font-size="9.5" textLength="14.9" lengthAdjust="spacingAndGlyphs">470</text>
<text x="283.5" y="179.5" font-size="9.5" textLength="15.6" lengthAdjust="spacingAndGlyphs">480</text>
<text x="318.7" y="179.5" font-size="9.5" textLength="15.1" lengthAdjust="spacingAndGlyphs">490</text>
<text x="353.9" y="179.6" font-size="9.5" textLength="15.2" lengthAdjust="spacingAndGlyphs">m/z</text>
<text x="18.5" y="214.3" font-size="12" font-weight="bold" textLength="15.0" lengthAdjust="spacingAndGlyphs">2.2</text>
<text x="305.4" y="197.7" font-size="10" font-weight="bold" textLength="30.7" lengthAdjust="spacingAndGlyphs">Betulin</text>
<text x="80.9" y="200.4" font-size="10" textLength="29.2" lengthAdjust="spacingAndGlyphs">425.345</text>
<text x="64.1" y="212.2" font-size="10" textLength="26.2" lengthAdjust="spacingAndGlyphs">B. -CH</text>
<text x="14.2" y="266.8" font-size="10" textLength="30.0" lengthAdjust="spacingAndGlyphs">407.341</text>
<text x="32.9" y="279.6" font-size="10" textLength="38.0" lengthAdjust="spacingAndGlyphs">B. 2x -OH</text>
<text x="161.3" y="290.3" font-size="10" textLength="43.3" lengthAdjust="spacingAndGlyphs">DHB matrix</text>
<text x="0.7" y="363.5" font-size="9.5" textLength="14.6" lengthAdjust="spacingAndGlyphs">400</text>
<text x="34.8" y="363.5" font-size="9.5" textLength="15.0" lengthAdjust="spacingAndGlyphs">410</text>
<text x="68.2" y="363.5" font-size="9.5" textLength="15.0" lengthAdjust="spacingAndGlyphs">420</text>
<text x="104.0" y="363.5" font-size="9.5" textLength="14.9" lengthAdjust="spacingAndGlyphs">430</text>
<text x="141.4" y="363.5" font-size="9.5" textLength="15.7" lengthAdjust="spacingAndGlyphs">440</text>
<text x="176.5" y="363.5" font-size="9.5" textLength="15.0" lengthAdjust="spacingAndGlyphs">450</text>
<text x="210.9" y="363.5" font-size="9.5" textLength="15.3" lengthAdjust="spacingAndGlyphs">460</text>
<text x="248.7" y="363.5" font-size="9.5" textLength="15.0" lengthAdjust="spacingAndGlyphs">470</text>
<text x="283.8" y="363.5" font-size="9.5" textLength="15.6" lengthAdjust="spacingAndGlyphs">480</text>
<text x="318.9" y="363.5" font-size="9.5" textLength="15.6" lengthAdjust="spacingAndGlyphs">490</text>
<text x="353.9" y="363.6" font-size="9.5" textLength="15.2" lengthAdjust="spacingAndGlyphs">m/z</text>
<text x="20.6" y="392.9" font-size="12" font-weight="bold" textLength="14.8" lengthAdjust="spacingAndGlyphs">2.3</text>
<text x="101.3" y="381.0" font-size="10" textLength="43.3" lengthAdjust="spacingAndGlyphs">DHB matrix</text>
<text x="224.9" y="386.3" font-size="10" textLength="29.6" lengthAdjust="spacingAndGlyphs">499.205</text>
<text x="188.8" y="422.2" font-size="10" textLength="29.8" lengthAdjust="spacingAndGlyphs">483.209</text>
<text x="50.5" y="500.5" font-size="10" textLength="30.0" lengthAdjust="spacingAndGlyphs">425.328</text>
<text x="8.8" y="512.6" font-size="10" textLength="29.3" lengthAdjust="spacingAndGlyphs">407.318</text>
<text x="285.4" y="393.0" font-size="10" font-weight="bold" textLength="47.5" lengthAdjust="spacingAndGlyphs">Birch bark</text>
<text x="273.3" y="406.5" font-size="10" font-weight="bold" textLength="70.7" lengthAdjust="spacingAndGlyphs">ethanolic extract</text>
<text x="0.5" y="548.8" font-size="9.5" textLength="15.5" lengthAdjust="spacingAndGlyphs">400</text>
<text x="46.4" y="548.8" font-size="9.5" textLength="14.9" lengthAdjust="spacingAndGlyphs">420</text>
<text x="93.4" y="548.8" font-size="9.5" textLength="15.0" lengthAdjust="spacingAndGlyphs">440</text>
<text x="140.7" y="548.8" font-size="9.5" textLength="15.3" lengthAdjust="spacingAndGlyphs">460</text>
<text x="188.2" y="548.8" font-size="9.5" textLength="15.6" lengthAdjust="spacingAndGlyphs">480</text>
<text x="238.2" y="548.8" font-size="9.5" textLength="16.0" lengthAdjust="spacingAndGlyphs">500</text>
<text x="283.6" y="548.8" font-size="9.5" textLength="16.0" lengthAdjust="spacingAndGlyphs">520</text>
<text x="327.9" y="548.8" font-size="9.5" textLength="17.1" lengthAdjust="spacingAndGlyphs">540</text>
<text x="356.7" y="548.8" font-size="9.5" textLength="16.8" lengthAdjust="spacingAndGlyphs">m/z</text>
</g>
<rect x="269.8" y="8.3" width="78" height="12.8" fill="none" stroke="#111" stroke-width="1.1"/>
<rect x="282" y="188.8" width="77.3" height="12.4" fill="none" stroke="#111" stroke-width="1.1"/>
<rect x="263.8" y="386.9" width="77.5" height="12.8" fill="none" stroke="#111" stroke-width="1.1"/>
</g>
</svg>
</body></html>
